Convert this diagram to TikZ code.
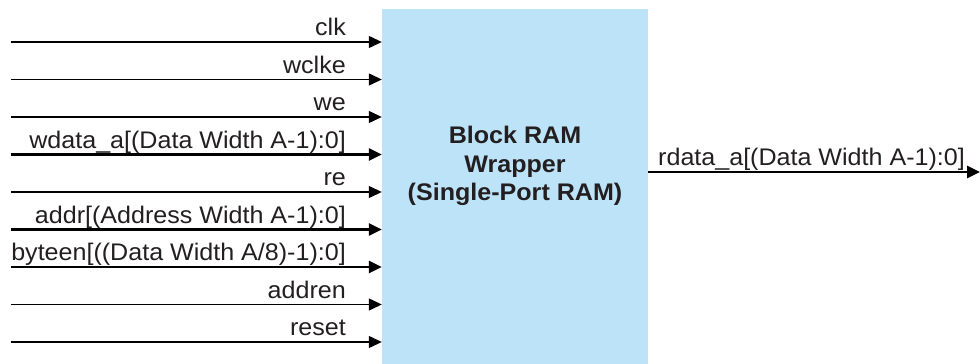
\documentclass[tikz,border=0pt]{standalone}
\usepackage{fontspec}
\setmainfont[FakeStretch=1.045]{Liberation Sans}
\usetikzlibrary{arrows.meta}
\definecolor{boxblue}{RGB}{189,227,248}
\definecolor{ink}{RGB}{35,31,32}
\tikzset{
  x=1pt,y=1pt,
  sig/.style={draw=black,line width=1.3pt,-{Triangle[length=13pt,width=12pt]}},
  bus/.style={draw=black,line width=2.8pt,-{Triangle[length=13pt,width=12pt]}},
  lbl/.style={anchor=base east,inner sep=0pt,text=ink,font=\fontsize{24}{28.5}\selectfont},
  olbl/.style={anchor=base west,inner sep=0pt,text=ink,font=\fontsize{24}{28.5}\selectfont},
  ramblock/.style={fill=boxblue,draw=none,minimum width=266pt,minimum height=355pt,inner sep=0pt},
  title/.style={align=center,inner sep=0pt,text=ink,font=\fontsize{24}{28.5}\selectfont\bfseries}
}
\begin{document}
\begin{tikzpicture}
\useasboundingbox (0,0) rectangle (980,364);
\node[ramblock] (ram) at (515,177.5) {};
\node[title] (ttl) at (515,198) {Block RAM\\Wrapper\\(Single-Port RAM)};
% inputs
\foreach \n/\yy/\txt/\st in {
  clk/322/clk/sig,
  wclke/284.5/wclke/sig,
  we/247/we/sig,
  wdata/209.5/{wdata\_a[(Data Width A-1):0]}/bus,
  re/172/re/sig,
  addr/134.5/{addr[(Address Width A-1):0]}/bus,
  byteen/97/{byteen[((Data Width A/8)-1):0]}/bus,
  addren/59.5/addren/sig,
  reset/22/reset/sig}{
  \coordinate (in-\n) at (11,\yy);
  \node[lbl] (l-\n) at (346,\yy+6) {\txt};
  \draw[\st] (in-\n) -- (ram.west |- in-\n);
}
% output
\coordinate (out) at (980,192);
\node[olbl] (l-out) at (658,198) {rdata\_a[(Data Width A-1):0]};
\draw[bus] (ram.east |- out) -- (out);
\end{tikzpicture}
\end{document}
